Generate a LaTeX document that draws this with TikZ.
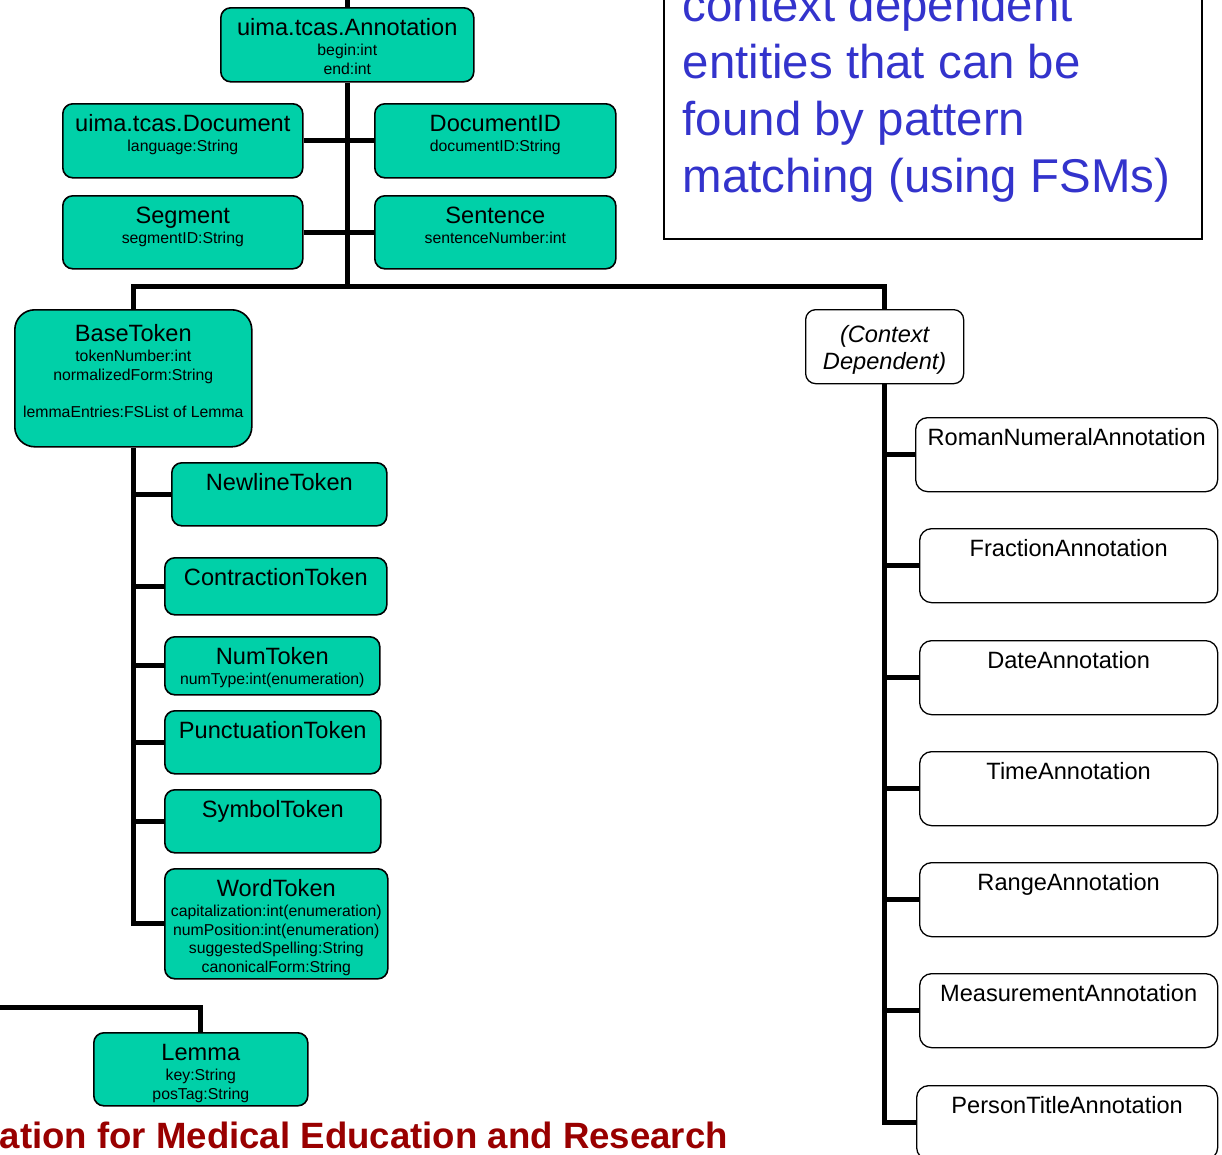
\documentclass[tikz,border=0pt]{standalone}
\usepackage{fontspec}
\setmainfont{Liberation Sans}
\usetikzlibrary{positioning}
\definecolor{clsteal}{RGB}{0,208,168}
\definecolor{noteblue}{RGB}{51,51,204}
\definecolor{footred}{RGB}{153,0,0}
\newcommand{\clsfont}{\fontsize{23.6}{27}\selectfont}
\newcommand{\attrfont}{\fontsize{15.8}{18.5}\selectfont}

\begin{document}
\begin{tikzpicture}[
    x=1pt, y=-1pt,
    cls/.style={draw, line width=1.6pt, fill=clsteal, rounded corners=10pt,
                anchor=north west, align=flush center, font=\clsfont,
                inner xsep=4pt, inner ysep=4pt, text height=23.5pt},
    ann/.style={cls, fill=white, line width=1.3pt, rounded corners=12pt},
    bus/.style={line width=5pt, line join=miter},
    notebox/.style={draw, line width=1.6pt, fill=white, text=noteblue,
                    align=flush left, text width=500pt, inner xsep=19pt, inner ysep=37pt,
                    font=\fontsize{47.4}{56.8}\selectfont},
    foot/.style={font=\bfseries\fontsize{36.6}{40}\selectfont, text=footred,
                 inner sep=0pt}
  ]
  \fill[white] (0,0) rectangle (1222,1154);
  \useasboundingbox (0,0) rectangle (1222,1154);
  \clip (0,0) rectangle (1222,1154);

  % Root and its direct features
  \node[cls, text width=245pt, text depth=42.5pt] (annot) at (220,7)
       {uima.tcas.Annotation\\[2pt]\attrfont begin:int\\end:int\par};
  \node[cls, text width=232pt, text depth=42.5pt] (doc) at (62,103)
       {uima.tcas.Document\\[2pt]\attrfont language:String\par};
  \node[cls, text width=233pt, text depth=42.5pt] (docid) at (374,103)
       {DocumentID\\[2pt]\attrfont documentID:String\par};
  \node[cls, text width=232pt, text depth=41.5pt] (segment) at (62,195)
       {Segment\\[2pt]\attrfont segmentID:String\par};
  \node[cls, text width=233pt, text depth=41.5pt] (sentence) at (374,195)
       {Sentence\\[2pt]\attrfont sentenceNumber:int\par};

  % Token branch
  \node[cls, rounded corners=20pt, text width=229pt, text height=27.5pt,
        text depth=101.5pt] (basetok) at (14,309)
       {BaseToken\\[2pt]\attrfont tokenNumber:int\\normalizedForm:String\\[18.5pt]
        lemmaEntries:FSList of Lemma\par};
  \node[cls, text width=207pt, text depth=31.5pt] (newline) at (171,462) {NewlineToken};
  \node[cls, text width=214pt, text depth=25.5pt] (contract) at (164,557) {ContractionToken};
  \node[cls, text width=207pt, text depth=26.5pt] (numtok) at (164,636)
       {NumToken\\[2pt]\attrfont numType:int(enumeration)\par};
  \node[cls, text width=208pt, text depth=31.5pt] (punct) at (164,710) {PunctuationToken};
  \node[cls, text width=208pt, text depth=31.5pt] (symtok) at (164,789) {SymbolToken};
  \node[cls, text width=215pt, text depth=78.5pt] (wordtok) at (164,868)
       {WordToken\\[2pt]\attrfont capitalization:int(enumeration)\\numPosition:int(enumeration)\\
        suggestedSpelling:String\\canonicalForm:String\par};
  \node[cls, text width=206pt, text depth=41.5pt] (lemma) at (93,1032)
       {Lemma\\[2pt]\attrfont key:String\\posTag:String\par};

  % Context dependent branch
  \node[ann, rounded corners=10pt, text width=150pt, text height=28.5pt, text depth=37.5pt,
        font=\clsfont\itshape] (ctxdep) at (805,309)
       {(Context\\Dependent)};
  \node[ann, text width=294pt, text depth=42.5pt] (roman) at (915,417) {RomanNumeralAnnotation};
  \node[ann, text width=290pt, text depth=42.5pt] (fraction) at (919,528) {FractionAnnotation};
  \node[ann, text width=290pt, text depth=42.5pt] (date) at (919,640) {DateAnnotation};
  \node[ann, text width=290pt, text depth=42.5pt] (time) at (919,751) {TimeAnnotation};
  \node[ann, text width=290pt, text depth=42.5pt] (range) at (919,862) {RangeAnnotation};
  \node[ann, text width=290pt, text depth=42.5pt] (measure) at (919,973) {MeasurementAnnotation};
  \node[ann, text width=293pt, text depth=42.5pt] (persttl) at (916,1085) {PersonTitleAnnotation};

  % Note and footer
  \node[notebox, anchor=south west] (note) at (663,240)
       {context dependent\\entities that can be\\found by pattern\\matching (using FSMs)};
  \node[foot, anchor=base east] (footer) at (728,1148)
       {ation for Medical Education and Research};

  % Connectors
  \path (annot.south) ++(0,204) coordinate (hub);
  \coordinate (lemmaref) at (-10,1007);
  \draw[bus] (annot.north) -- ++(0,-12);
  \draw[bus] (annot.south) -- (hub);
  \draw[bus] (doc.east) -- (docid.west);
  \draw[bus] (segment.east) -- (sentence.west);
  \draw[bus] (basetok.north) |- (hub) -| (ctxdep.north);
  \draw[bus] (basetok.south) |- (wordtok.west);
  \foreach \c in {newline,contract,numtok,punct,symtok}
    \draw[bus] (basetok.south |- \c.west) -- (\c.west);
  \draw[bus] (ctxdep.south) |- (persttl.west);
  \foreach \c in {roman,fraction,date,time,range,measure}
    \draw[bus] (ctxdep.south |- \c.west) -- (\c.west);
  \draw[bus] (lemmaref) -| (lemma.north);
\end{tikzpicture}
\end{document}
